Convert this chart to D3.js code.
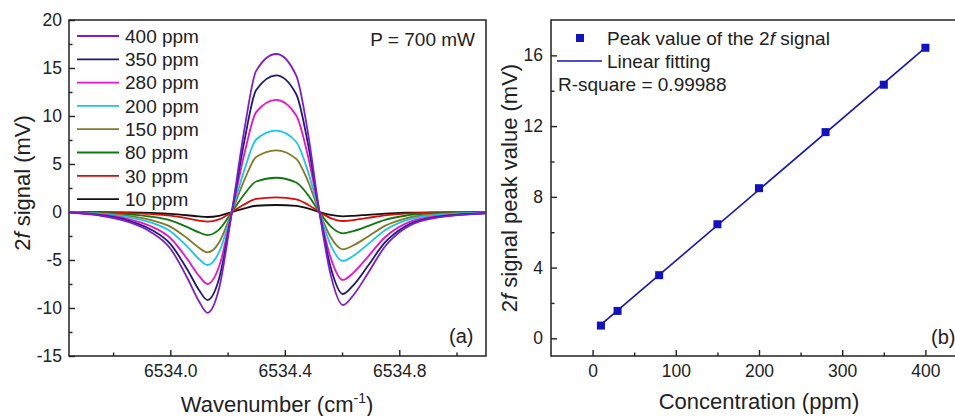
<!DOCTYPE html>
<html>
<head>
<meta charset="utf-8">
<script src="https://cdn.jsdelivr.net/npm/d3@7"></script>
<style>
  html, body { margin: 0; padding: 0; background: #fff; overflow: hidden; }
  svg { display: block; font-family: "Liberation Sans", Arial, Helvetica, sans-serif; }
</style>
</head>
<body>
<svg id="chart" width="955" height="416"></svg>
<script>
// ---------------- DATA ----------------
const wavenumber = [6533.65, 6533.75, 6533.85, 6533.93, 6534.00, 6534.06, 6534.10, 6534.13, 6534.17, 6534.215,
  6534.26, 6534.30, 6534.37, 6534.44, 6534.48, 6534.521,
  6534.56, 6534.603, 6534.64, 6534.69, 6534.75, 6534.82, 6534.92, 6535.10];

const seriesNames = ["400 ppm", "350 ppm", "280 ppm", "200 ppm", "150 ppm", "80 ppm", "30 ppm", "10 ppm"];
const seriesColors = ["#7a1ed6", "#1c1c78", "#ee10c8", "#12c8ee", "#857a22", "#0e7a0e", "#dd0a0a", "#111111"];

const signal400 = [-0.05, -0.35, -1.0, -2.05, -3.8, -6.9, -9.3, -10.5, -8.0, 0, 8.8, 14.7, 16.46, 14.2, 8.4, 0, -6.5, -9.69, -8.65, -6.4, -3.6, -1.7, -0.66, -0.15];
const signal350 = [-0.04, -0.31, -0.87, -1.79, -3.32, -6.02, -8.12, -9.17, -6.98, 0, 7.6, 12.7, 14.24, 12.27, 7.25, 0, -5.72, -8.54, -7.61, -5.63, -3.17, -1.5, -0.58, -0.13];
const signal280 = [-0.04, -0.25, -0.71, -1.46, -2.71, -4.93, -6.64, -7.5, -5.71, 0, 6.22, 10.4, 11.67, 10.05, 5.94, 0, -4.75, -7.08, -6.31, -4.67, -2.63, -1.24, -0.48, -0.11];
const signal200 = [-0.03, -0.18, -0.53, -1.08, -2.0, -3.63, -4.89, -5.52, -4.21, 0, 4.51, 7.55, 8.47, 7.29, 4.31, 0, -3.42, -5.1, -4.55, -3.37, -1.89, -0.89, -0.35, -0.08];
const signal150 = [-0.02, -0.14, -0.4, -0.82, -1.52, -2.76, -3.72, -4.2, -3.2, 0, 3.42, 5.72, 6.42, 5.53, 3.27, 0, -2.61, -3.89, -3.47, -2.57, -1.44, -0.68, -0.26, -0.06];
const signal80  = [-0.01, -0.08, -0.23, -0.47, -0.87, -1.58, -2.13, -2.4, -1.83, 0, 1.9, 3.18, 3.57, 3.07, 1.81, 0, -1.49, -2.22, -1.98, -1.47, -0.82, -0.39, -0.15, -0.03];
const signal30  = [0, -0.03, -0.1, -0.2, -0.37, -0.66, -0.89, -1.01, -0.77, 0, 0.82, 1.37, 1.53, 1.32, 0.78, 0, -0.63, -0.94, -0.84, -0.62, -0.35, -0.16, -0.06, -0.01];
const signal10  = [0, -0.02, -0.05, -0.1, -0.19, -0.34, -0.46, -0.52, -0.4, 0, 0.39, 0.65, 0.73, 0.63, 0.37, 0, -0.3, -0.45, -0.4, -0.29, -0.17, -0.08, -0.03, -0.01];
const signals = [signal400, signal350, signal280, signal200, signal150, signal80, signal30, signal10];

const xTicksA = [6534.0, 6534.4, 6534.8];
const xMinorA = [6533.8, 6534.2, 6534.6, 6535.0];
const yTicksA = [-15, -10, -5, 0, 5, 10, 15, 20];
const yMinorA = [-12.5, -7.5, -2.5, 2.5, 7.5, 12.5, 17.5];

const concPPM = [10, 30, 80, 150, 200, 280, 350, 400];
const peakMV  = [0.72, 1.55, 3.57, 6.45, 8.49, 11.66, 14.34, 16.43];
const xTicksB = [0, 100, 200, 300, 400];
const xMinorB = [50, 150, 250, 350];
const yTicksB = [0, 4, 8, 12, 16];
const yMinorB = [2, 6, 10, 14];

// ---------------- DRAW ----------------
const svg = d3.select("#chart");
const axisColor = "#222";
const tickFont = 17.5;
const plainInt = d => String(d);          // hyphen-minus as in the original
const oneDec = d => d.toFixed(1);

function styleAxis(g) {
  g.select(".domain").remove();
  g.selectAll(".tick line").attr("stroke", axisColor).attr("stroke-width", 1.4);
  g.selectAll("text").attr("font-size", tickFont).attr("fill", "#222")
    .attr("font-family", '"Liberation Sans", Arial, sans-serif');
}

// ===== Panel (a) =====
const A = { x0: 69, x1: 486, y0: 20, y1: 356 };
const xA = d3.scaleLinear().domain([6533.646, 6535.103]).range([A.x0, A.x1]);
const yA = d3.scaleLinear().domain([-15, 20]).range([A.y1, A.y0]);

svg.append("defs").append("clipPath").attr("id", "clipA")
  .append("rect").attr("x", A.x0).attr("y", A.y0).attr("width", A.x1 - A.x0).attr("height", A.y1 - A.y0);

const gA = svg.append("g");
gA.append("g").attr("transform", `translate(0,${A.y1})`)
  .call(d3.axisBottom(xA).tickValues(xTicksA).tickFormat(oneDec).tickSize(-6).tickPadding(9))
  .call(styleAxis);
gA.append("g").attr("transform", `translate(0,${A.y1})`)
  .call(d3.axisBottom(xA).tickValues(xMinorA).tickFormat("").tickSize(-3.5))
  .call(styleAxis);
gA.append("g").attr("transform", `translate(${A.x0},0)`)
  .call(d3.axisLeft(yA).tickValues(yTicksA).tickFormat(plainInt).tickSize(-6).tickPadding(7))
  .call(styleAxis);
gA.append("g").attr("transform", `translate(${A.x0},0)`)
  .call(d3.axisLeft(yA).tickValues(yMinorA).tickFormat("").tickSize(-3.5))
  .call(styleAxis);

const lineA = d3.line().x((d, i) => xA(wavenumber[i])).y(d => yA(d)).curve(d3.curveMonotoneX);
const curvesG = gA.append("g").attr("clip-path", "url(#clipA)");
for (let k = signals.length - 1; k >= 0; k--) {
  curvesG.append("path").datum(signals[k]).attr("d", lineA)
    .attr("fill", "none").attr("stroke", seriesColors[k]).attr("stroke-width", 1.8)
    .attr("stroke-linejoin", "round");
}

gA.append("rect").attr("x", A.x0).attr("y", A.y0).attr("width", A.x1 - A.x0).attr("height", A.y1 - A.y0)
  .attr("fill", "none").attr("stroke", axisColor).attr("stroke-width", 1.5);

// legend (a)
const legA = gA.append("g");
seriesNames.forEach((name, i) => {
  const yy = 36 + i * 23.3;
  legA.append("line").attr("x1", 77).attr("x2", 119).attr("y1", yy).attr("y2", yy)
    .attr("stroke", seriesColors[i]).attr("stroke-width", 1.8);
  legA.append("text").attr("x", 125).attr("y", yy + 6.8).attr("font-size", 19).attr("fill", "#222").text(name);
});

gA.append("text").attr("x", 475).attr("y", 46).attr("text-anchor", "end").attr("font-size", 19).attr("fill", "#222")
  .text("P = 700 mW");
gA.append("text").attr("x", 449).attr("y", 343).attr("font-size", 20).attr("fill", "#222").text("(a)");

// axis titles (a)
const xtA = gA.append("text").attr("x", 277).attr("y", 412).attr("text-anchor", "middle").attr("font-size", 22).attr("fill", "#222");
xtA.append("tspan").text("Wavenumber (cm");
xtA.append("tspan").attr("font-size", 14).attr("dy", -9).text("-1");
xtA.append("tspan").attr("dy", 9).text(")");

const ytA = gA.append("text").attr("transform", "translate(30,183) rotate(-90)").attr("text-anchor", "middle")
  .attr("font-size", 22).attr("fill", "#222");
ytA.append("tspan").text("2");
ytA.append("tspan").attr("font-style", "italic").text("f");
ytA.append("tspan").text(" signal (mV)");

// ===== Panel (b) =====
const B = { x0: 551, x1: 967, y0: 20, y1: 356 };
const xB = d3.scaleLinear().domain([-50, 450]).range([B.x0, B.x1]);
const yB = d3.scaleLinear().domain([-1, 18]).range([B.y1, B.y0]);

const gB = svg.append("g");
gB.append("g").attr("transform", `translate(0,${B.y1})`)
  .call(d3.axisBottom(xB).tickValues(xTicksB).tickFormat(plainInt).tickSize(-6).tickPadding(9))
  .call(styleAxis);
gB.append("g").attr("transform", `translate(0,${B.y1})`)
  .call(d3.axisBottom(xB).tickValues(xMinorB).tickFormat("").tickSize(-3.5))
  .call(styleAxis);
gB.append("g").attr("transform", `translate(${B.x0},0)`)
  .call(d3.axisLeft(yB).tickValues(yTicksB).tickFormat(plainInt).tickSize(-6).tickPadding(8))
  .call(styleAxis);
gB.append("g").attr("transform", `translate(${B.x0},0)`)
  .call(d3.axisLeft(yB).tickValues(yMinorB).tickFormat("").tickSize(-3.5))
  .call(styleAxis);

// least-squares fit of the peak values
const mx = d3.mean(concPPM), my = d3.mean(peakMV);
const slope = d3.sum(concPPM, (x, i) => (x - mx) * (peakMV[i] - my)) / d3.sum(concPPM, x => (x - mx) * (x - mx));
const intercept = my - slope * mx;
const fitX = [d3.min(concPPM), d3.max(concPPM)];
const blue = "#1212c2";
gB.append("line")
  .attr("x1", xB(fitX[0])).attr("y1", yB(intercept + slope * fitX[0]))
  .attr("x2", xB(fitX[1])).attr("y2", yB(intercept + slope * fitX[1]))
  .attr("stroke", blue).attr("stroke-width", 1.6);
gB.selectAll("rect.pt").data(concPPM).enter().append("rect").attr("class", "pt")
  .attr("x", (d) => xB(d) - 4).attr("y", (d, i) => yB(peakMV[i]) - 4)
  .attr("width", 8).attr("height", 8).attr("fill", blue);

gB.append("rect").attr("x", B.x0).attr("y", B.y0).attr("width", B.x1 - B.x0).attr("height", B.y1 - B.y0)
  .attr("fill", "none").attr("stroke", axisColor).attr("stroke-width", 1.5);

// legend (b)
gB.append("rect").attr("x", 576).attr("y", 34).attr("width", 8).attr("height", 8).attr("fill", blue);
const lt1 = gB.append("text").attr("x", 607).attr("y", 44.5).attr("font-size", 19).attr("fill", "#222");
lt1.append("tspan").text("Peak value of the 2");
lt1.append("tspan").attr("font-style", "italic").text("f");
lt1.append("tspan").text(" signal");
gB.append("line").attr("x1", 557).attr("x2", 602).attr("y1", 61).attr("y2", 61).attr("stroke", blue).attr("stroke-width", 1.6);
gB.append("text").attr("x", 607).attr("y", 68).attr("font-size", 19).attr("fill", "#222").text("Linear fitting");
gB.append("text").attr("x", 558).attr("y", 91).attr("font-size", 19).attr("fill", "#222").text("R-square = 0.99988");
gB.append("text").attr("x", 931).attr("y", 344).attr("font-size", 20).attr("fill", "#222").text("(b)");

// axis titles (b)
gB.append("text").attr("x", 759).attr("y", 409).attr("text-anchor", "middle").attr("font-size", 22).attr("fill", "#222")
  .text("Concentration (ppm)");
const ytB = gB.append("text").attr("transform", "translate(517,188) rotate(-90)").attr("text-anchor", "middle")
  .attr("font-size", 22).attr("fill", "#222");
ytB.append("tspan").text("2");
ytB.append("tspan").attr("font-style", "italic").text("f");
ytB.append("tspan").text(" signal peak value (mV)");
</script>
</body>
</html>
